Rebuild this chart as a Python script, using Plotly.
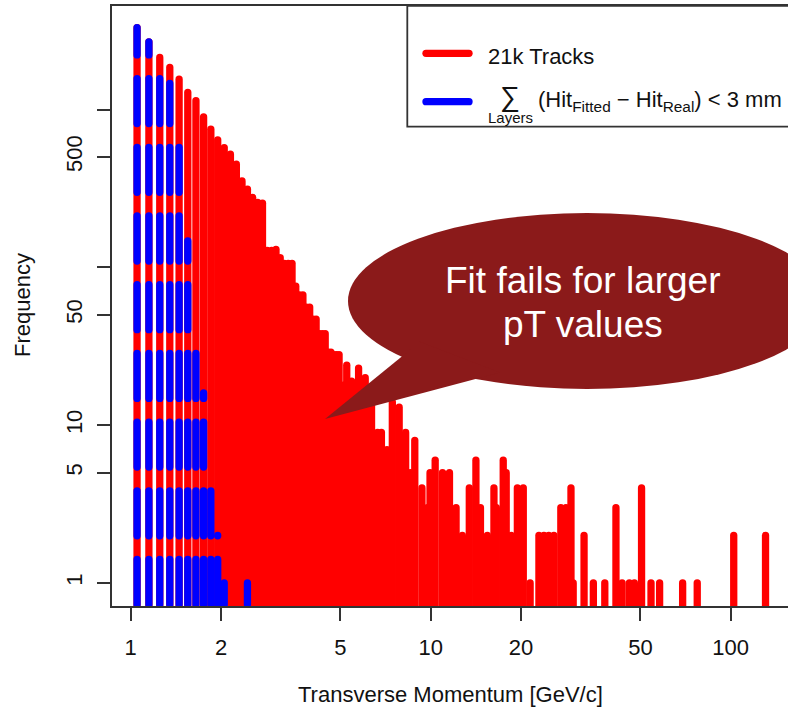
import plotly.graph_objects as go

# ---------------------------------------------------------------------------
# Histogram of track transverse momentum (bin centres in GeV/c, counts)
# ---------------------------------------------------------------------------
pt_all = [
    1.05, 1.15, 1.25, 1.35, 1.45, 1.55, 1.65, 1.75, 1.85, 1.95,
    2.05, 2.15, 2.25, 2.35, 2.45, 2.55, 2.65, 2.75, 2.85, 2.95,
    3.05, 3.15, 3.25, 3.35, 3.45, 3.55, 3.65, 3.75, 3.85, 3.95,
    4.05, 4.15, 4.25, 4.35, 4.45, 4.55, 4.65, 4.75, 4.85, 4.95,
    5.15, 5.25, 5.45, 5.75, 6.05, 6.15, 6.35, 6.65, 6.85, 7.15,
    7.45, 7.85, 8.25, 8.55, 8.85, 9.35, 9.75, 9.95, 10.35, 10.95,
    11.55, 12.15, 12.75, 13.45, 14.15, 14.65, 15.45, 16.25, 16.55, 17.45,
    17.85, 18.55, 19.45, 20.35, 21.45, 22.95, 23.85, 24.75, 25.75, 27.15,
    28.25, 29.35, 29.85, 32.45, 34.85, 38.05, 41.45, 43.45, 45.95, 47.75,
    50.45, 54.25, 57.95, 69.15, 77.35, 102.35, 130.65,
]
n_all = [
    3300, 2685, 2136, 1845, 1556, 1282, 1136, 899, 750, 643,
    574, 521, 450, 353, 313, 277, 258, 255, 128, 128,
    130, 115, 106, 106, 106, 76, 67, 67, 56, 56,
    47, 47, 38, 38, 38, 29, 29, 28, 28, 28,
    18, 24, 19, 23, 20, 17, 15, 9, 9, 7,
    14, 13, 9, 5, 8, 4, 3, 5, 6, 5,
    5, 3, 2, 4, 6, 3, 2, 4, 3, 6,
    5, 2, 4, 4, 1, 2, 2, 2, 2, 3,
    3, 4, 1, 2, 1, 1, 3, 1, 1, 1,
    4, 1, 1, 1, 1, 2, 2,
]

# Tracks whose summed hit residual over all layers is below 3 mm
pt_fit = [1.05, 1.15, 1.25, 1.35, 1.45, 1.55, 1.65, 1.75, 1.85, 1.95, 2.05, 2.45]
n_fit = [3300, 2685, 1887, 1461, 679, 147, 32, 16, 4, 2, 1, 1]

x_tickvals = [1, 2, 5, 10, 20, 50, 100]
x_ticktext = ["1", "2", "5", "10", "20", "50", "100"]
y_tickvals = [1, 5, 10, 50, 100, 500, 1000]
y_ticktext = ["1", "5", "10", "50", "", "500", ""]

# ---------------------------------------------------------------------------
# Layout geometry
# ---------------------------------------------------------------------------
FIG_W, FIG_H = 788, 711
M_L, M_R, M_T, M_B = 112, 0, 6, 105
PLOT_W = FIG_W - M_L - M_R
PLOT_H = FIG_H - M_T - M_B
X_RANGE = [-0.0623, 2.191]      # log10 GeV/c
Y_RANGE = [-0.1457, 3.6558]     # log10 counts
PX_PER_DECADE_Y = PLOT_H / (Y_RANGE[1] - Y_RANGE[0])

FONT = "Liberation Sans, Arial, Helvetica, sans-serif"
AXIS_COL = "#333333"
TEXT_COL = "#111111"
BUBBLE = "#8B1A1A"


def px(xp):
    """page x pixel -> paper fraction"""
    return (xp - M_L) / PLOT_W


def py(yp):
    """page y pixel -> paper fraction"""
    return (M_T + PLOT_H - yp) / PLOT_H


def stems(xs, ys, base):
    """vertical lines from the base of the plot up to each count (R type='h')"""
    sx, sy = [], []
    for x, y in zip(xs, ys):
        sx += [x, x, None]
        sy += [base, y, None]
    return sx, sy


base_all = 10 ** Y_RANGE[0]
# the dashed series starts its pattern just above the frame
base_fit = 10 ** (Y_RANGE[0] + 1.5 / PX_PER_DECADE_Y)

rx, ry = stems(pt_all, n_all, base_all)
bx, by = stems(pt_fit, n_fit, base_fit)

fig = go.Figure()
fig.add_trace(go.Scatter(
    x=rx, y=ry, mode="lines", name="21k Tracks",
    line=dict(color="#FF0000", width=7.3), connectgaps=False,
    hoverinfo="skip", showlegend=False,
))
fig.add_trace(go.Scatter(
    x=bx, y=by, mode="lines", name="Sum over layers < 3 mm",
    line=dict(color="#0000FF", width=7.3, dash="45px,23.7px"), connectgaps=False,
    hoverinfo="skip", showlegend=False,
))

axis_common = dict(
    type="log", showgrid=False, zeroline=False,
    showline=True, linecolor=AXIS_COL, linewidth=1.8,
    ticks="outside", ticklen=13, tickwidth=1.8, tickcolor=AXIS_COL,
    tickfont=dict(family=FONT, size=22, color=TEXT_COL),
    tickmode="array",
)
fig.update_xaxes(range=X_RANGE, tickvals=x_tickvals, ticktext=x_ticktext,
                 mirror=True, ticklabelstandoff=8, **axis_common)
fig.update_yaxes(range=Y_RANGE, tickvals=y_tickvals, ticktext=y_ticktext,
                 tickangle=-90, ticklabelstandoff=6, **axis_common)

shapes = []
# legend frame
shapes.append(dict(type="rect", xref="paper", yref="paper",
                   x0=px(407.3), x1=px(805), y0=py(126.7), y1=py(5.8),
                   line=dict(color=AXIS_COL, width=1.8), fillcolor="white",
                   layer="above"))
for yy, col in [(53.3, "#FF0000"), (101.7, "#0000FF")]:
    shapes.append(dict(type="line", xref="paper", yref="paper",
                       x0=px(426), x1=px(469), y0=py(yy), y1=py(yy),
                       line=dict(color=col, width=7.3), layer="above"))

# speech bubble
cx, cy, ra, rb = 587, 301, 239, 88
shapes.append(dict(type="circle", xref="paper", yref="paper",
                   x0=px(cx - ra), x1=px(cx + ra), y0=py(cy + rb), y1=py(cy - rb),
                   line=dict(width=0), fillcolor=BUBBLE, layer="above"))
tail = [(325, 419), (420, 341.7), (500, 372.6)]
path = "M " + " L ".join(f"{px(a):.5f},{py(b):.5f}" for a, b in tail) + " Z"
shapes.append(dict(type="path", xref="paper", yref="paper", path=path,
                   line=dict(width=0), fillcolor=BUBBLE, layer="above"))

annotations = []


def note(text, xp, yp, size, color=TEXT_COL, xanchor="center", yanchor="middle", angle=0):
    annotations.append(dict(
        text=text, xref="paper", yref="paper", x=px(xp), y=py(yp),
        xanchor=xanchor, yanchor=yanchor, showarrow=False, textangle=angle,
        font=dict(family=FONT, size=size, color=color),
    ))


note("Transverse Momentum [GeV/c]", 451, 694, 22)
note("Frequency", 22, 305, 22, angle=-90)
note("21k Tracks", 486, 56, 22, xanchor="left")
note("\u2211", 510, 97, 28)
note("Layers", 510, 118, 15)
note("(Hit<sub>Fitted</sub> \u2212 Hit<sub>Real</sub>) &lt; 3 mm", 536, 101, 22, xanchor="left")
note("Fit fails for larger", 582.5, 280.5, 37, color="white")
note("pT values", 582.5, 324, 37, color="white")

fig.update_layout(
    width=FIG_W, height=FIG_H,
    margin=dict(l=M_L, r=M_R, t=M_T, b=M_B, pad=0),
    paper_bgcolor="white", plot_bgcolor="white",
    shapes=shapes, annotations=annotations,
    showlegend=False,
    font=dict(family=FONT),
)

# R draws its lines with round ends
round_caps = """
var s = document.createElement('style');
s.textContent = '.scatterlayer .js-line{stroke-linecap:round !important}' +
                '.shapelayer path{stroke-linecap:round}';
document.head.appendChild(s);
"""
fig.write_html("out.html", post_script=round_caps, config={"displayModeBar": False})
